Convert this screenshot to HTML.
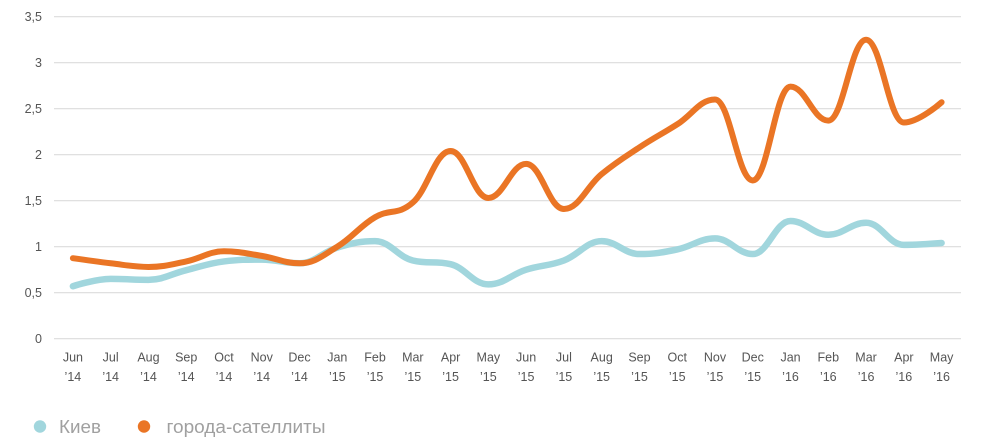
<!DOCTYPE html>
<html><head><meta charset="utf-8"><style>
html,body{margin:0;padding:0;background:#fff;}
svg{display:block;}
text{font-family:"Liberation Sans","Noto Sans CJK SC",sans-serif;}
</style></head><body>
<svg id="c" width="1004" height="445" viewBox="0 0 1004 445" xmlns="http://www.w3.org/2000/svg">
<g stroke="#dcdcdc" stroke-width="1.2">
<line x1="54" y1="16.7" x2="961" y2="16.7"/>
<line x1="54" y1="62.7" x2="961" y2="62.7"/>
<line x1="54" y1="108.7" x2="961" y2="108.7"/>
<line x1="54" y1="154.7" x2="961" y2="154.7"/>
<line x1="54" y1="200.7" x2="961" y2="200.7"/>
<line x1="54" y1="246.7" x2="961" y2="246.7"/>
<line x1="54" y1="292.7" x2="961" y2="292.7"/>
<line x1="54" y1="338.7" x2="961" y2="338.7"/>
</g>
<g fill="#555" font-size="12.5" text-anchor="end">
<text x="42" y="21">3,5</text>
<text x="42" y="67">3</text>
<text x="42" y="113">2,5</text>
<text x="42" y="159">2</text>
<text x="42" y="205">1,5</text>
<text x="42" y="251">1</text>
<text x="42" y="297">0,5</text>
<text x="42" y="343">0</text>
</g>
<g id="xl" fill="#555" font-size="12.5" text-anchor="middle"></g>
<path id="teal" fill="none" stroke="#a1d6dd" stroke-width="6.5" stroke-linecap="round" stroke-linejoin="round"/>
<path id="orange" fill="none" stroke="#ea7525" stroke-width="6" stroke-linecap="round" stroke-linejoin="round"/>
<circle cx="40" cy="426.5" r="6.2" fill="#a1d6dd"/>
<text x="59" y="433" font-size="18" fill="#a0a0a0" textLength="42" lengthAdjust="spacingAndGlyphs">Киев</text>
<circle cx="144" cy="426.5" r="6.2" fill="#ea7525"/>
<text x="166.5" y="433" font-size="18" fill="#a0a0a0" textLength="159" lengthAdjust="spacingAndGlyphs">города-сателлиты</text>
</svg>
<script>
(function(){
var months=["Jun","Jul","Aug","Sep","Oct","Nov","Dec","Jan","Feb","Mar","Apr","May","Jun","Jul","Aug","Sep","Oct","Nov","Dec","Jan","Feb","Mar","Apr","May"];
var years=["14","14","14","14","14","14","14","15","15","15","15","15","15","15","15","15","15","15","15","16","16","16","16","16"];
var orange=[0.875,0.82,0.78,0.84,0.95,0.90,0.82,1.0,1.32,1.48,2.04,1.53,1.90,1.41,1.79,2.08,2.33,2.6,1.72,2.74,2.37,3.25,2.35,2.57];
var teal=[0.57,0.65,0.64,0.745,0.84,0.86,0.82,0.99,1.06,0.85,0.81,0.59,0.75,0.85,1.06,0.92,0.97,1.09,0.92,1.28,1.13,1.26,1.02,1.04];
function X(i){return 72.9+i*37.77;}
function Y(v){return 338.7-92*v;}
var g=document.getElementById('xl'),ns="http://www.w3.org/2000/svg";
for(var i=0;i<24;i++){
 var t=document.createElementNS(ns,'text');t.setAttribute('x',X(i));t.setAttribute('y',361.5);t.textContent=months[i];g.appendChild(t);
 var t2=document.createElementNS(ns,'text');t2.setAttribute('x',X(i));t2.setAttribute('y',381);t2.textContent="\u2019"+years[i];g.appendChild(t2);
}
function spline(vals){
 var p=vals.map(function(v,i){return [X(i),Y(v)];});
 var n=p.length,s=1.5,d=s+1,L=[],R=[];
 for(var i=0;i<n;i++){
  if(i==0||i==n-1){L[i]=p[i];R[i]=p[i];continue;}
  var px=p[i][0],py=p[i][1],lx=p[i-1][0],ly=p[i-1][1],nx=p[i+1][0],ny=p[i+1][1];
  var lcx=(s*px+lx)/d,lcy=(s*py+ly)/d,rcx=(s*px+nx)/d,rcy=(s*py+ny)/d;
  if(rcx!==lcx){var c=((rcy-lcy)*(rcx-px))/(rcx-lcx)+py-rcy;lcy+=c;rcy+=c;}
  if(lcy>ly&&lcy>py){lcy=Math.max(ly,py);rcy=2*py-lcy;}else if(lcy<ly&&lcy<py){lcy=Math.min(ly,py);rcy=2*py-lcy;}
  if(rcy>ny&&rcy>py){rcy=Math.max(ny,py);lcy=2*py-rcy;}else if(rcy<ny&&rcy<py){rcy=Math.min(ny,py);lcy=2*py-rcy;}
  L[i]=[lcx,lcy];R[i]=[rcx,rcy];
 }
 var dstr="M"+p[0][0].toFixed(2)+" "+p[0][1].toFixed(2);
 for(var i=1;i<n;i++){
  dstr+=" C"+R[i-1][0].toFixed(2)+" "+R[i-1][1].toFixed(2)+" "+L[i][0].toFixed(2)+" "+L[i][1].toFixed(2)+" "+p[i][0].toFixed(2)+" "+p[i][1].toFixed(2);
 }
 return dstr;
}
document.getElementById('teal').setAttribute('d',spline(teal));
document.getElementById('orange').setAttribute('d',spline(orange));
})();
</script>
</body></html>
